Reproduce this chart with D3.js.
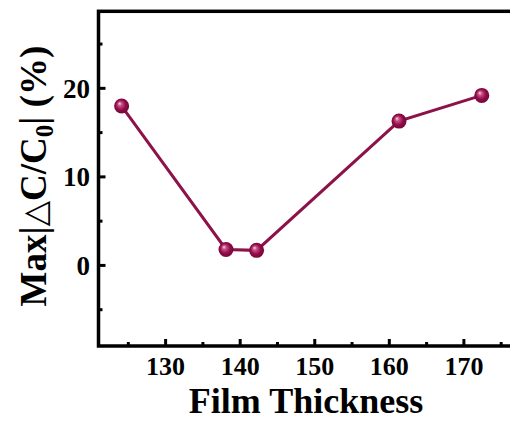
<!DOCTYPE html>
<html>
<head>
<meta charset="utf-8">
<script src="https://cdn.jsdelivr.net/npm/d3@7"></script>
<style>
  html, body { margin: 0; padding: 0; background: #fff; }
  svg { display: block; }
  text { font-family: "Liberation Serif", "Times New Roman", serif; font-weight: bold; fill: #000; }
</style>
</head>
<body>
<svg id="chart" width="510" height="423"></svg>
<script>
// Film thickness (x) vs. maximum relative capacitance change (y, %)
const thickness = [124.1, 138.1, 142.2, 161.3, 172.4];
const maxChange = [18.0, 1.8, 1.7, 16.3, 19.2];

const xMajorTicks = [130, 140, 150, 160, 170];
const xMinorTicks = [125, 135, 145, 155, 165, 175];
const yMajorTicks = [0, 10, 20];
const yMinorTicks = [-5, 5, 15, 25];

const xTitle = "Film Thickness";

const svg = d3.select("#chart");

const x = d3.scaleLinear().domain([121, 179]).range([98.5, 531]);
const y = d3.scaleLinear().domain([-9.1, 28.7]).range([346, 11.3]);

const lineColor = "#8c1249";

// marker shading: glossy sphere
const defs = svg.append("defs");
const grad = defs.append("radialGradient")
  .attr("id", "ball")
  .attr("cx", "50%").attr("cy", "50%").attr("r", "55%")
  .attr("fx", "35%").attr("fy", "32%");
grad.append("stop").attr("offset", "0%").attr("stop-color", "#f6d8e4");
grad.append("stop").attr("offset", "25%").attr("stop-color", "#c4507f");
grad.append("stop").attr("offset", "60%").attr("stop-color", "#930b4a");
grad.append("stop").attr("offset", "100%").attr("stop-color", "#6e0535");

// plot frame
const [x0, x1] = x.range();
const [yb, yt] = y.range();
svg.append("rect")
  .attr("x", x0).attr("y", yt)
  .attr("width", x1 - x0).attr("height", yb - yt)
  .attr("fill", "none").attr("stroke", "#000").attr("stroke-width", 3.5);

// inward ticks
const tickG = svg.append("g").attr("stroke", "#000").attr("stroke-width", 3);
tickG.selectAll(".xmaj").data(xMajorTicks).join("line")
  .attr("x1", d => x(d)).attr("x2", d => x(d))
  .attr("y1", yb).attr("y2", yb - 7);
tickG.selectAll(".xmin").data(xMinorTicks).join("line")
  .attr("x1", d => x(d)).attr("x2", d => x(d))
  .attr("y1", yb).attr("y2", yb - 4);
tickG.selectAll(".ymaj").data(yMajorTicks).join("line")
  .attr("y1", d => y(d)).attr("y2", d => y(d))
  .attr("x1", x0).attr("x2", x0 + 7);
tickG.selectAll(".ymin").data(yMinorTicks).join("line")
  .attr("y1", d => y(d)).attr("y2", d => y(d))
  .attr("x1", x0).attr("x2", x0 + 4);

// tick labels
svg.append("g").selectAll("text").data(xMajorTicks).join("text")
  .attr("x", d => x(d)).attr("y", 375)
  .attr("text-anchor", "middle")
  .style("font-size", "26px")
  .text(d => d);

svg.append("g").selectAll("text").data(yMajorTicks).join("text")
  .attr("x", 90).attr("y", d => y(d))
  .attr("dy", "0.34em")
  .attr("text-anchor", "end")
  .style("font-size", "27px")
  .text(d => d);

// axis titles
svg.append("text")
  .attr("x", 306).attr("y", 413)
  .attr("text-anchor", "middle")
  .style("font-size", "36px")
  .text(xTitle);

const yTitle = svg.append("text")
  .attr("transform", "translate(46,176) rotate(-90)")
  .attr("text-anchor", "middle")
  .style("font-size", "37px");
yTitle.append("tspan").text("Max|");
yTitle.append("tspan").style("font-family", "'DejaVu Serif', serif").style("font-weight", "normal").style("font-size", "33px").text("\u25B3");
yTitle.append("tspan").text("C/C");
yTitle.append("tspan").attr("dy", 7).style("font-size", "25px").text("0");
yTitle.append("tspan").attr("dy", -7).text("| (%)");

// series line and markers
const pts = thickness.map((t, i) => [t, maxChange[i]]);
svg.append("path")
  .datum(pts)
  .attr("fill", "none")
  .attr("stroke", lineColor)
  .attr("stroke-width", 3)
  .attr("d", d3.line().x(d => x(d[0])).y(d => y(d[1])));

svg.append("g").selectAll("circle").data(pts).join("circle")
  .attr("cx", d => x(d[0])).attr("cy", d => y(d[1]))
  .attr("r", 7.5)
  .attr("fill", "url(#ball)");
</script>
</body>
</html>
